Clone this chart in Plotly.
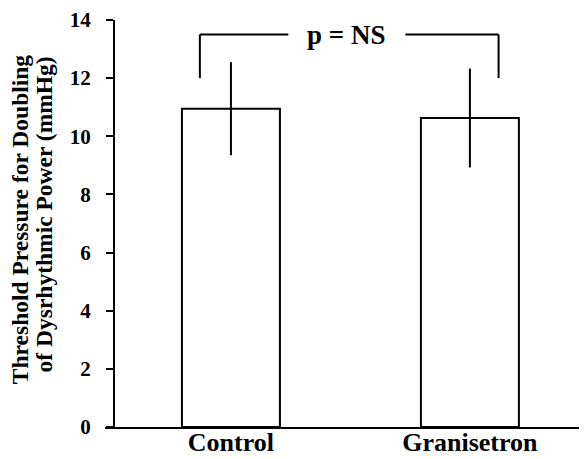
import plotly.graph_objects as go

# data
categories = ["Control", "Granisetron"]
means = [10.95, 10.63]
errors = [1.6, 1.7]
y_ticks = [0, 2, 4, 6, 8, 10, 12, 14]

# significance bracket (data units)
bracket_top = 13.5
bracket_drop = 12.0
bracket_label = "p = NS"

title_lines = ["Threshold Pressure for Doubling", "of Dysrhythmic Power (mmHg)"]

x_pos = list(range(len(categories)))
serif_bold = dict(family="Liberation Serif", color="black", weight="bold")

fig = go.Figure()

fig.add_trace(go.Bar(
    x=x_pos,
    y=means,
    width=0.41,
    marker=dict(color="white", line=dict(color="black", width=2)),
    error_y=dict(type="data", array=errors, visible=True,
                 color="black", thickness=2, width=0),
    showlegend=False,
))

# bracket drawn in data coordinates
ink = dict(color="black", width=2)
left_x = x_pos[0] - 0.13
right_x = x_pos[1] + 0.12
fig.add_shape(type="line", x0=left_x, x1=left_x, y0=bracket_drop, y1=bracket_top, line=ink)
fig.add_shape(type="line", x0=left_x, x1=0.24, y0=bracket_top, y1=bracket_top, line=ink)
fig.add_shape(type="line", x0=0.73, x1=right_x, y0=bracket_top, y1=bracket_top, line=ink)
fig.add_shape(type="line", x0=right_x, x1=right_x, y0=bracket_drop, y1=bracket_top, line=ink)
fig.add_annotation(x=0.48, y=bracket_top, text=bracket_label, showarrow=False,
                   font=dict(size=27, **serif_bold))

# y axis title, one annotation per line to keep the lines tight
fig.add_annotation(xref="paper", yref="paper", x=-0.176, y=0.511,
                   xanchor="center", yanchor="middle",
                   text=title_lines[0], textangle=-90, showarrow=False,
                   font=dict(size=23.5, **serif_bold))
fig.add_annotation(xref="paper", yref="paper", x=-0.126, y=0.523,
                   xanchor="center", yanchor="middle",
                   text=title_lines[1], textangle=-90, showarrow=False,
                   font=dict(size=23.5, **serif_bold))

# page body has an 8px margin, so the figure is a bit smaller than the window
fig.update_layout(
    width=579,
    height=451,
    margin=dict(l=97, r=0, t=12, b=32),
    plot_bgcolor="white",
    paper_bgcolor="white",
    xaxis=dict(
        range=[-0.527, 1.49],
        tickmode="array",
        tickvals=x_pos,
        ticktext=categories,
        showline=True, linewidth=2, linecolor="black",
        showgrid=False, zeroline=False, ticks="",
        automargin=False,
        ticklabelstandoff=-9,
        tickfont=dict(size=26, **serif_bold),
    ),
    yaxis=dict(
        range=[0, 14],
        tickvals=y_ticks,
        anchor="free", position=0.0187,
        showline=True, linewidth=2, linecolor="black",
        showgrid=False, zeroline=False,
        ticks="outside", ticklen=7, tickwidth=2, tickcolor="black",
        ticklabelstandoff=11,
        automargin=False,
        tickfont=dict(size=21, **serif_bold),
    ),
    yaxis2=dict(
        range=[0, 14],
        tickvals=y_ticks,
        overlaying="y", anchor="free", position=0.0187,
        showline=False, showgrid=False, zeroline=False,
        ticks="inside", ticklen=7, tickwidth=2, tickcolor="black",
        showticklabels=False,
    ),
)

fig.write_html("out.html")
